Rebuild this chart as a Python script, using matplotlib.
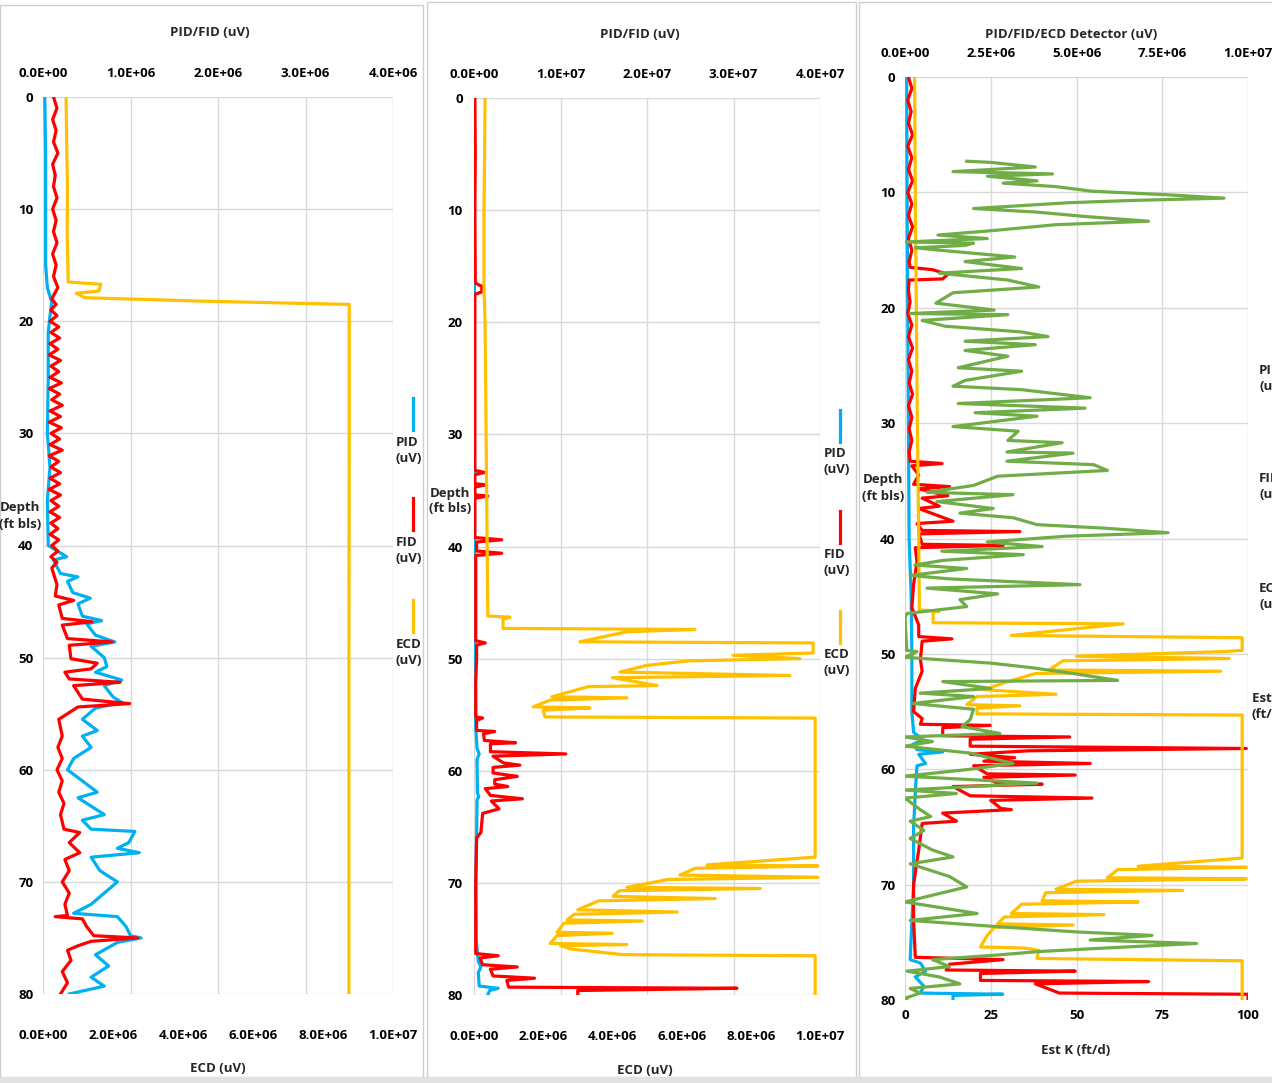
import matplotlib.pyplot as plt
import numpy as np
from matplotlib.ticker import FuncFormatter
from matplotlib.patches import Rectangle
from matplotlib.lines import Line2D

plt.rcParams['font.family'] = ['Open Sans', 'DejaVu Sans']
plt.rcParams['font.weight'] = 'bold'
plt.rcParams['text.color'] = '#262626'

# ---- data: (depth ft, value) ; detector values in 1E6 uV, Est K in ft/d ----
depth_ticks = [0, 10, 20, 30, 40, 50, 60, 70, 80]

p1_top_ticks = [0, 1e6, 2e6, 3e6, 4e6]
p1_bot_ticks = [0, 2e6, 4e6, 6e6, 8e6, 1e7]
p2_top_ticks = [0, 1e7, 2e7, 3e7, 4e7]
p2_bot_ticks = [0, 2e6, 4e6, 6e6, 8e6, 1e7]
p3_top_ticks = [0, 2.5e6, 5e6, 7.5e6, 1e7]
p3_bot_ticks = [0, 25, 50, 75, 100]

p1_pid = [(0, 0.02), (5, 0.03), (10, 0.03), (15, 0.03), (17, 0.05), (18.3, 0.10), (19.5, 0.08),
          (21, 0.06), (25, 0.06), (30, 0.05), (33, 0.08), (36, 0.05), (40, 0.06), (41, 0.27),
          (41.3, 0.12), (42.5, 0.20), (42.8, 0.40), (43.2, 0.28), (44.2, 0.34), (44.7, 0.54),
          (45.2, 0.40), (46.3, 0.45), (46.7, 0.67), (47.0, 0.50), (48.0, 0.60), (48.6, 0.82),
          (49.0, 0.55), (50.0, 0.70), (50.8, 0.73), (51.3, 0.60), (52.0, 0.90), (52.5, 0.70),
          (53.5, 0.80), (54.0, 0.90), (54.5, 0.60), (55.5, 0.45), (56.5, 0.62), (57.0, 0.45),
          (58.0, 0.55), (59.0, 0.35), (60.0, 0.28), (61.0, 0.45), (62.0, 0.62), (62.5, 0.40),
          (63.5, 0.60), (64.0, 0.70), (64.5, 0.45), (65.3, 0.55), (65.5, 1.05), (66.5, 0.98),
          (67.0, 0.85), (67.4, 1.10), (67.8, 0.55), (69.0, 0.65), (70.0, 0.85), (71.0, 0.70),
          (72.0, 0.55), (72.8, 0.35), (73.1, 0.85), (74.0, 0.95), (74.8, 1.00), (75.0, 1.12),
          (75.4, 0.85), (76.5, 0.60), (77.5, 0.75), (78.5, 0.55), (79.3, 0.70), (80, 0.30)]

p1_fid = [(0, 0.12), (1, 0.16), (2, 0.11), (3, 0.15), (4, 0.12), (5, 0.17), (6, 0.11), (7, 0.14),
          (8, 0.12), (9, 0.16), (10, 0.11), (11, 0.15), (12, 0.12), (13, 0.16), (14, 0.11),
          (15, 0.15), (16, 0.12), (17, 0.17), (18, 0.10), (18.5, 0.15), (19, 0.09), (19.5, 0.16),
          (20, 0.08), (20.5, 0.18), (21, 0.09), (21.5, 0.19), (22, 0.08), (22.5, 0.17), (23, 0.07),
          (23.5, 0.20), (24, 0.09), (24.5, 0.18), (25, 0.08), (25.5, 0.21), (26, 0.07), (26.5, 0.19),
          (27, 0.10), (27.5, 0.22), (28, 0.08), (28.5, 0.20), (29, 0.07), (29.5, 0.21), (30, 0.09),
          (30.5, 0.19), (31, 0.08), (31.5, 0.22), (32, 0.07), (32.5, 0.18), (33, 0.09), (33.5, 0.20),
          (34, 0.08), (34.5, 0.19), (35, 0.07), (35.5, 0.20), (36, 0.09), (36.5, 0.18), (37, 0.08),
          (37.5, 0.19), (38, 0.09), (38.5, 0.17), (39, 0.08), (39.5, 0.18), (40, 0.10), (40.5, 0.17),
          (41, 0.09), (41.5, 0.16), (42, 0.10), (42.5, 0.12), (43.5, 0.16), (44.5, 0.14),
          (44.9, 0.35), (45.3, 0.18), (46.5, 0.22), (46.8, 0.56), (47.1, 0.22), (48.3, 0.28),
          (48.6, 0.79), (48.9, 0.30), (50.1, 0.32), (50.5, 0.62), (51.0, 0.55), (51.3, 0.25),
          (51.9, 0.30), (52.2, 0.88), (52.5, 0.35), (53.7, 0.45), (54.1, 0.99), (54.4, 0.40),
          (55.0, 0.28), (55.5, 0.18), (57, 0.22), (58, 0.17), (59, 0.22), (60, 0.16), (61, 0.22),
          (62, 0.18), (63, 0.24), (64, 0.20), (65.3, 0.24), (65.6, 0.42), (66.5, 0.30), (67.4, 0.42),
          (68, 0.25), (69, 0.30), (70, 0.22), (71, 0.30), (72, 0.25), (73.0, 0.28), (73.1, 0.14),
          (73.3, 0.45), (74, 0.50), (74.8, 0.58), (75.0, 1.08), (75.3, 0.55), (75.7, 0.40),
          (76.1, 0.28), (77, 0.32), (78, 0.22), (79, 0.28), (80, 0.20)]

p1_ecd = [(0, 0.66), (5, 0.68), (8, 0.70), (12, 0.69), (16.5, 0.72), (16.7, 1.65), (17.3, 1.60),
          (17.5, 0.95), (17.9, 1.20), (18.2, 4.50), (18.4, 7.30), (18.5, 8.75), (30, 8.75),
          (50, 8.74), (80, 8.74)]

p2_pid = [(0, 0.05), (10, 0.05), (20, 0.05), (30, 0.05), (40, 0.08), (48, 0.10), (56, 0.20),
          (58, 0.35), (58.5, 0.60), (59, 0.35), (62, 0.40), (62.3, 0.55), (62.6, 0.35), (66, 0.30),
          (70, 0.20), (75, 0.25), (77, 0.50), (77.5, 0.80), (78, 0.50), (79.2, 0.60), (79.4, 2.80),
          (79.6, 1.80), (80, 1.60)]

p2_fid = [(0, 0.10), (5, 0.15), (10, 0.10), (16.5, 0.15), (16.8, 0.90), (17.3, 0.90), (17.5, 0.10),
          (25, 0.10), (33.2, 0.10), (33.4, 1.20), (33.6, 0.10), (34.4, 0.10), (34.5, 1.40),
          (34.7, 0.10), (35.4, 0.10), (35.5, 1.60), (35.7, 0.10), (39.2, 0.10), (39.4, 3.20),
          (39.6, 0.30), (40.4, 0.30), (40.6, 3.20), (40.8, 0.20), (48.4, 0.20), (48.6, 1.30),
          (48.8, 0.30), (50, 0.30), (52, 0.20), (55.2, 0.20), (55.3, 1.00), (55.5, 0.30),
          (56.4, 0.30), (56.5, 2.40), (56.7, 1.10), (57.3, 1.20), (57.5, 4.80), (57.6, 1.90),
          (58.3, 1.90), (58.5, 10.6), (58.7, 2.20), (59.3, 3.40), (59.5, 5.30), (59.7, 2.20),
          (60.2, 2.20), (60.5, 5.00), (60.8, 2.40), (61.2, 2.40), (61.4, 3.90), (61.6, 1.30),
          (62.2, 1.90), (62.5, 5.60), (62.7, 2.00), (63.4, 2.90), (63.8, 1.00), (65.5, 0.80),
          (66, 0.30), (70, 0.20), (76.3, 0.20), (76.5, 2.80), (76.7, 0.70), (77.3, 1.00),
          (77.5, 5.00), (77.7, 1.90), (78.3, 2.20), (78.5, 7.00), (78.7, 3.80), (79.3, 4.00),
          (79.4, 30.4), (79.6, 12.0), (80, 12.0)]

p2_ecd = [(0, 0.32), (10, 0.29), (17, 0.29), (20, 0.32), (30, 0.35), (40, 0.38), (46.2, 0.40),
          (46.3, 1.04), (46.5, 0.84), (47.3, 0.84), (47.4, 6.39), (47.6, 4.42), (48.5, 3.06),
          (48.6, 9.80), (49.5, 9.80), (49.7, 7.49), (50.0, 9.42), (50.2, 6.20), (50.6, 5.00),
          (51.2, 4.22), (51.5, 9.13), (51.7, 4.00), (52.4, 5.29), (52.5, 3.30), (53.4, 2.25),
          (53.5, 4.42), (53.7, 2.20), (54.3, 1.71), (54.4, 3.35), (54.6, 2.00), (55.2, 2.05),
          (55.3, 9.86), (67.7, 9.86), (68.4, 6.73), (68.5, 9.94), (68.7, 6.40), (69.3, 5.95),
          (69.5, 9.94), (69.7, 5.60), (70.4, 4.42), (70.5, 8.27), (70.7, 4.20), (71.2, 4.02),
          (71.4, 6.97), (71.6, 3.60), (72.4, 3.00), (72.6, 5.87), (72.8, 2.90), (73.3, 2.69),
          (73.4, 4.86), (73.6, 2.60), (74.4, 2.40), (74.5, 3.99), (74.7, 2.40), (75.4, 2.20),
          (75.5, 4.42), (75.6, 2.50), (75.9, 2.80), (76.4, 4.31), (76.5, 9.86), (80, 9.86)]

p3_pid = [(0, 0.05), (10, 0.06), (20, 0.08), (30, 0.10), (40, 0.12), (45, 0.18), (50, 0.20),
          (55, 0.20), (56.8, 0.25), (57.5, 0.55), (57.8, 0.25), (58.3, 0.35), (58.5, 1.10),
          (58.7, 0.40), (59.5, 0.60), (59.7, 0.35), (62, 0.30), (65, 0.25), (70, 0.25),
          (76.5, 0.15), (76.8, 0.45), (77.5, 0.60), (78.0, 0.30), (78.8, 0.55), (79.4, 0.45),
          (79.5, 2.85), (79.6, 1.40), (80, 1.40)]

p3_fid = [(0, 0.10), (1, 0.20), (2, 0.08), (3, 0.18), (4, 0.10), (5, 0.22), (6, 0.08), (7, 0.20),
          (8, 0.10), (9, 0.22), (10, 0.08), (11, 0.20), (12, 0.10), (13, 0.22), (14, 0.10),
          (15, 0.20), (16, 0.12), (16.5, 0.15), (16.7, 0.80), (17.1, 1.25), (17.5, 1.10),
          (17.6, 0.12), (18.5, 0.10), (19.5, 0.15), (20.5, 0.08), (21.5, 0.20), (22.5, 0.10),
          (23.5, 0.22), (24.5, 0.10), (25.5, 0.20), (26.5, 0.12), (27.5, 0.22), (28.5, 0.10),
          (29.5, 0.20), (30.5, 0.12), (31.5, 0.20), (32.5, 0.12), (33.3, 0.15), (33.5, 1.08),
          (33.7, 0.20), (34.5, 0.40), (35.3, 0.25), (35.5, 1.30), (35.7, 0.40), (36.3, 1.25),
          (36.5, 0.50), (37.2, 1.00), (37.4, 0.40), (38.5, 1.40), (38.7, 0.35), (39.3, 0.50),
          (39.4, 3.35), (39.6, 0.40), (40.5, 0.50), (40.6, 2.86), (40.8, 0.30), (42, 0.35),
          (44, 0.25), (46, 0.20), (47.5, 0.40), (48.5, 0.40), (48.7, 1.37), (48.9, 0.50),
          (50.5, 0.45), (51.5, 0.50), (53, 0.30), (55, 0.25), (55.6, 0.50), (56.1, 0.45),
          (56.2, 2.48), (56.4, 1.10), (57.1, 1.10), (57.2, 4.80), (57.4, 1.90), (58.0, 1.90),
          (58.2, 9.95), (58.4, 3.60), (58.7, 1.90), (59.0, 3.20), (59.3, 2.30), (59.5, 5.40),
          (59.7, 2.00), (60.4, 2.40), (60.5, 4.96), (60.7, 2.30), (61.2, 2.70), (61.3, 4.00),
          (61.5, 1.40), (62.3, 1.90), (62.5, 5.45), (62.7, 2.50), (63.4, 2.80), (63.5, 3.10),
          (63.8, 1.10), (64.5, 1.50), (64.7, 0.50), (67, 0.40), (70, 0.25), (73, 0.25),
          (76.3, 0.30), (76.5, 2.86), (76.9, 1.30), (77.4, 1.20), (77.5, 4.96), (77.7, 2.20),
          (78.3, 2.20), (78.4, 7.10), (78.6, 3.80), (79.4, 4.50), (79.5, 10.0), (80, 10.0)]

p3_ecd = [(0, 0.28), (10, 0.30), (20, 0.33), (30, 0.36), (40, 0.40), (46.2, 0.42), (46.3, 1.00),
          (46.4, 0.82), (47.3, 0.82), (47.4, 6.36), (48.4, 3.10), (48.6, 9.83), (49.7, 9.83),
          (49.8, 9.30), (50.2, 5.00), (50.4, 9.45), (50.6, 4.60), (51.4, 4.20), (51.5, 9.20),
          (51.7, 3.80), (52.5, 2.90), (53.1, 2.30), (53.5, 4.40), (53.7, 2.10), (54.4, 1.80),
          (54.5, 3.35), (54.7, 2.10), (55.2, 2.10), (55.3, 9.83), (67.7, 9.83), (68.4, 6.80),
          (68.5, 9.95), (68.7, 6.20), (69.4, 5.90), (69.5, 9.95), (69.7, 5.00), (70.4, 4.40),
          (70.5, 8.10), (70.7, 4.10), (71.4, 4.00), (71.5, 6.80), (71.7, 3.40), (72.5, 3.10),
          (72.6, 5.80), (72.8, 2.90), (73.4, 2.70), (73.5, 4.90), (73.7, 2.60), (74.4, 2.40),
          (75.4, 2.20), (75.5, 3.50), (75.7, 3.90), (76.4, 3.85), (76.6, 9.83), (80, 9.83)]

p3_estk = [(7.3, 18), (7.4, 25), (7.8, 38), (8.2, 14), (8.4, 43), (8.6, 24), (9.0, 38.5),
           (9.2, 28.6), (9.5, 44), (9.9, 54.5), (10.2, 76), (10.5, 93), (10.7, 66), (10.9, 47.5),
           (11.4, 20), (11.7, 38), (12.1, 53), (12.5, 71), (12.8, 44), (13.3, 26), (13.7, 9.6),
           (14.0, 24), (14.3, 0), (14.4, 20), (14.6, 17.5), (14.8, 3), (15.0, 9.6), (15.6, 32),
           (16.0, 17.5), (16.6, 34), (17.0, 10), (17.6, 30), (18.2, 39), (18.7, 14), (19.6, 9),
           (20.2, 26), (20.5, 1.5), (20.6, 30), (21.1, 5), (21.6, 11.7), (22.1, 34), (22.5, 41.7),
           (22.9, 17.5), (23.2, 38), (23.7, 17.5), (24.2, 30), (25.2, 15.5), (25.5, 34),
           (26.3, 17.5), (26.8, 14), (27.1, 34), (27.8, 54), (28.3, 15.5), (28.7, 52.5),
           (29.1, 20.4), (29.4, 38.5), (30.3, 14), (30.7, 33), (31.5, 30), (31.7, 45.8),
           (32.5, 29.7), (32.6, 49), (33.3, 29.7), (33.6, 55), (34.1, 59), (34.6, 27), (35.4, 20),
           (36.0, 6.4), (36.2, 31.5), (36.8, 9.3), (37.4, 25.7), (37.8, 16), (38.2, 31.5),
           (38.8, 38.5), (39.1, 58), (39.5, 76.7), (39.8, 47), (40.3, 24), (40.7, 40), (41.1, 10.7),
           (41.4, 34.5), (41.9, 11), (42.3, 2.9), (42.6, 18), (43.2, 1.5), (43.5, 13), (44.0, 51),
           (44.3, 6.4), (44.8, 27), (45.3, 16), (45.9, 18), (46.5, 0.6), (46.8, 0), (49.7, 0.5),
           (49.8, 3.5), (50.3, 0), (50.8, 25), (51.2, 37), (51.7, 49), (52.3, 62), (52.4, 11),
           (53.0, 25), (53.4, 4.4), (53.7, 20), (54.3, 2.3), (54.8, 20), (55.7, 19), (56.3, 16.6),
           (56.9, 27.7), (57.2, 0), (57.6, 8), (58.0, 0), (58.6, 19), (59.5, 31.5), (60.0, 19),
           (60.6, 0), (61.2, 38.5), (61.8, 0), (62.1, 15), (62.5, 0), (63.5, 4.4), (64.1, 7.5),
           (64.5, 1.5), (65.3, 5.5), (66.0, 1.5), (67.0, 8), (67.6, 14), (68.2, 1.5), (69.3, 13),
           (70.2, 18), (70.7, 11), (71.5, 0), (72.5, 21), (73.1, 1.5), (73.6, 25), (74.1, 50),
           (74.4, 72), (74.8, 54), (75.1, 85), (75.5, 58), (75.8, 39), (76.1, 27), (76.5, 8),
           (77.1, 13), (77.5, 0.6), (78.0, 10), (78.6, 16), (79.0, 1.5), (79.4, 4.4), (79.8, 0.5),
           (80, 0.5)]

c_pid, c_fid, c_ecd, c_k = '#00B0F0', '#FF0000', '#FFC000', '#70AD47'
grid_c = '#d9d9d9'
LW = 2.3

W, H = 1272, 1083
fig = plt.figure(figsize=(W / 100, H / 100), dpi=100)


def rect(l, t, r, b):
    return [l / W, 1 - b / H, (r - l) / W, (b - t) / H]


def fx(x):
    return x / W


def fy(y):
    return 1 - y / H


def sci(v, p):
    return f"{v:.1E}"


def xy(pairs, scale=1e6):
    a = np.array(pairs, dtype=float)
    return a[:, 1] * scale, a[:, 0]


def panel(r, top_max, top_ticks, bot_max, bot_ticks, top_pad, bot_pad, y_pad, bot_fmt):
    ax = fig.add_axes(rect(*r))
    ax2 = ax.twiny()
    ax.set_ylim(80, 0)
    ax.set_yticks(depth_ticks)
    ax.set_xlim(0, top_max)
    ax.set_xticks(top_ticks)
    ax.xaxis.set_ticks_position('top')
    ax.xaxis.set_major_formatter(FuncFormatter(sci))
    ax.grid(True, color=grid_c, lw=1)
    ax.set_axisbelow(True)
    ax.tick_params(length=0, labelsize=9.5)
    ax.tick_params(axis='x', pad=top_pad, labeltop=True, labelbottom=False)
    ax.tick_params(axis='y', pad=y_pad)
    ax2.set_xlim(0, bot_max)
    ax2.set_xticks(bot_ticks)
    ax2.xaxis.set_ticks_position('bottom')
    ax2.xaxis.set_major_formatter(FuncFormatter(bot_fmt))
    ax2.tick_params(length=0, labelsize=9.5, pad=bot_pad, labelbottom=True, labeltop=False)
    for a in (ax, ax2):
        for s in a.spines.values():
            s.set_visible(False)
    return ax, ax2


# panel frames
for l, t, r, b in [(0, 5, 423, 1077), (427, 2, 856, 1077), (859, 2, 1290, 1077)]:
    fig.add_artist(Rectangle((fx(l), fy(b)), fx(r - l), (b - t) / H, transform=fig.transFigure,
                             fill=True, fc='white', ec='#cfcfcf', lw=1, zorder=0))
fig.add_artist(Rectangle((0, 0), 1, 6 / H, transform=fig.transFigure, fc='#e2e2e2', ec='none', zorder=0))

# ---- panel 1 ----
ax, ax2 = panel((43, 97, 393, 994), 4e6, p1_top_ticks, 1e7, p1_bot_ticks, 12, 25, 7, sci)
ax.plot(*xy(p1_pid), color=c_pid, lw=LW)
ax.plot(*xy(p1_fid), color=c_fid, lw=LW)
ax2.plot(*xy(p1_ecd), color=c_ecd, lw=LW)

# ---- panel 2 ----
ax, ax2 = panel((474, 98, 820, 995), 4e7, p2_top_ticks, 1e7, p2_bot_ticks, 12, 25, 8, sci)
ax.plot(*xy(p2_pid), color=c_pid, lw=LW)
ax.plot(*xy(p2_fid), color=c_fid, lw=LW)
ax2.plot(*xy(p2_ecd), color=c_ecd, lw=LW)

# ---- panel 3 ----
ax, ax2 = panel((905, 77, 1248, 1000), 1e7, p3_top_ticks, 100, p3_bot_ticks, 12, 6.5, 7,
                lambda v, p: f"{v:.0f}")
ax.plot(*xy(p3_pid), color=c_pid, lw=LW)
ax.plot(*xy(p3_fid), color=c_fid, lw=LW)
ax.plot(*xy(p3_ecd), color=c_ecd, lw=LW)
ax2.plot(*xy(p3_estk, 1), color=c_k, lw=LW)

# ---- titles and labels ----
fs = 9.5
fig.text(fx(210), fy(32), 'PID/FID (uV)', ha='center', va='center', fontsize=fs)
fig.text(fx(640), fy(35), 'PID/FID (uV)', ha='center', va='center', fontsize=fs)
fig.text(fx(1071), fy(35), 'PID/FID/ECD Detector (uV)', ha='center', va='center', fontsize=fs)
fig.text(fx(218), fy(1068), 'ECD (uV)', ha='center', va='center', fontsize=fs)
fig.text(fx(645), fy(1070), 'ECD (uV)', ha='center', va='center', fontsize=fs)
fig.text(fx(1076), fy(1050), 'Est K (ft/d)', ha='center', va='center', fontsize=fs)
for x, y in [(20, 516), (450, 501), (883, 488)]:
    fig.text(fx(x), fy(y), 'Depth\n(ft bls)', ha='center', va='center', fontsize=fs, linespacing=1.3)

# ---- legends (vertical key lines) ----
legend_names = ['PID\n(uV)', 'FID\n(uV)', 'ECD\n(uV)']
legend_cols = [c_pid, c_fid, c_ecd]
for lx, tx, tops in [(413, 396, [398, 498, 600]), (840, 824, [410, 511, 611])]:
    for name, col, t in zip(legend_names, legend_cols, tops):
        fig.add_artist(Line2D([fx(lx), fx(lx)], [fy(t), fy(t + 32)], transform=fig.transFigure,
                              color=col, lw=LW))
        fig.text(fx(tx), fy(t + 52), name, ha='left', va='center', fontsize=fs, linespacing=1.3)
# right-hand key of the third chart runs past the picture edge, as in the source
for name, tx, ty in [('PID\n(uV)', 1259, 378), ('FID\n(uV)', 1259, 487), ('ECD\n(uV)', 1259, 596),
                     ('Est. K\n(ft/d)', 1252, 706)]:
    fig.text(fx(tx), fy(ty), name, ha='left', va='center', fontsize=fs, linespacing=1.3)

fig.savefig('out.png', dpi=100, facecolor='white')
